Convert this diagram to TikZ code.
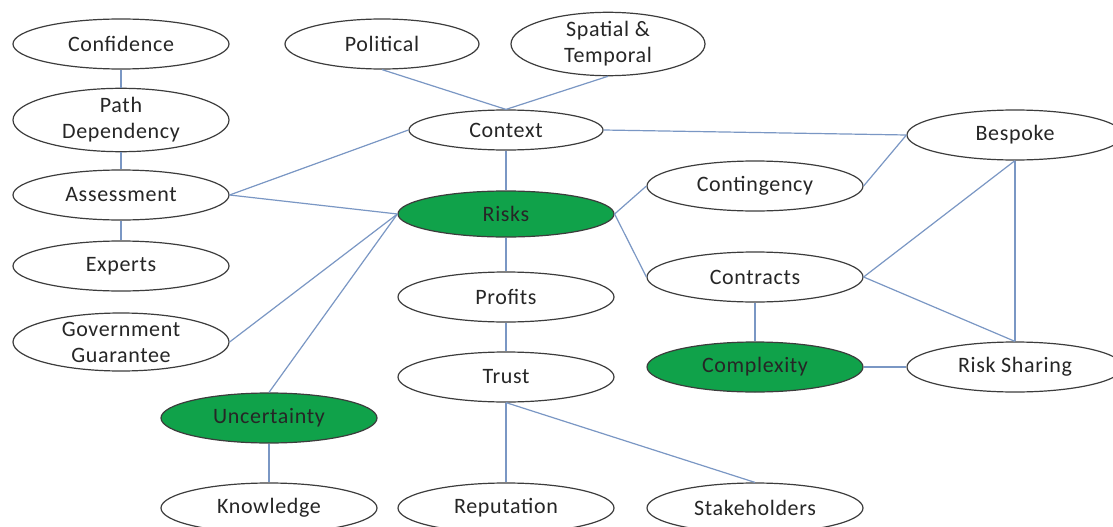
\documentclass[tikz,border=0pt]{standalone}
\usepackage{fontspec}
\setmainfont{Carlito}[LetterSpace=3]
\usetikzlibrary{shapes.geometric}
\definecolor{linkblue}{HTML}{7A97C4}
\definecolor{keygreen}{HTML}{10A24A}
\definecolor{rim}{HTML}{3C3C3C}
\begin{document}
\begin{tikzpicture}[x=1pt,y=1pt,
  topic/.style={ellipse, draw=rim, line width=1.2pt, fill=white,
    minimum width=216pt, minimum height=50pt, inner sep=0pt,
    align=center, font=\fontsize{22}{26}\selectfont, text=black!85},
  tall/.style={minimum height=58pt},
  key/.style={fill=keygreen},
  link/.style={draw=linkblue, line width=1.2pt}]
\path[use as bounding box, fill=white] (0,0) rectangle (1113,-527);

% left column
\node[topic] (conf) at (121,-44) {Confidence};
\node[topic, tall] (path) at (121,-120) {Path\\Dependency};
\node[topic] (assess) at (121,-195) {Assessment};
\node[topic] (experts) at (121,-266) {Experts};
\node[topic, tall] (gov) at (121,-342) {Government\\Guarantee};
\node[topic, key] (unc) at (269,-418) {Uncertainty};
\node[topic] (know) at (269,-508) {Knowledge};

% centre column
\node[topic, minimum width=194pt] (pol) at (382,-44) {Political};
\node[topic, minimum width=194pt] (spat) at (608,-44) {Spatial \&\\Temporal};
\node[topic, minimum width=194pt, minimum height=40pt] (ctx) at (506,-130) {Context};
\node[topic, key, minimum height=46pt] (risks) at (506,-214) {Risks};
\node[topic] (profits) at (506,-297) {Profits};
\node[topic] (trust) at (506,-377) {Trust};
\node[topic] (rep) at (506,-508) {Reputation};

% right side
\node[topic] (cont) at (755,-186) {Contingency};
\node[topic] (contr) at (755,-277) {Contracts};
\node[topic, key] (cplx) at (755,-367) {Complexity};
\node[topic] (stake) at (755,-508) {Stakeholders};
\node[topic] (besp) at (1015,-135) {Bespoke};
\node[topic] (share) at (1015,-367) {Risk Sharing};

% connections
\draw[link] (conf) -- (path);
\draw[link] (path) -- (assess);
\draw[link] (assess) -- (experts);
\draw[link] (assess.east) -- (ctx.west);
\draw[link] (assess.east) -- (risks.west);
\draw[link] (gov.east) -- (risks.west);
\draw[link] (unc.north) -- (risks.west);
\draw[link] (unc) -- (know);
\draw[link] (pol.south) -- (ctx.north);
\draw[link] (spat.south) -- (ctx.north);
\draw[link] (ctx) -- (risks);
\draw[link] (ctx.east) -- (besp.west);
\draw[link] (risks) -- (profits);
\draw[link] (profits) -- (trust);
\draw[link] (trust.south) -- (rep.north);
\draw[link] (trust.south) -- (stake.north);
\draw[link] (risks.east) -- (cont.west);
\draw[link] (risks.east) -- (contr.west);
\draw[link] (cont.east) -- (besp.west);
\draw[link] (contr.east) -- (besp.south);
\draw[link] (contr.east) -- (share.north);
\draw[link] (besp.south) -- (share.north);
\draw[link] (contr) -- (cplx);
\draw[link] (cplx) -- (share);
\end{tikzpicture}
\end{document}
